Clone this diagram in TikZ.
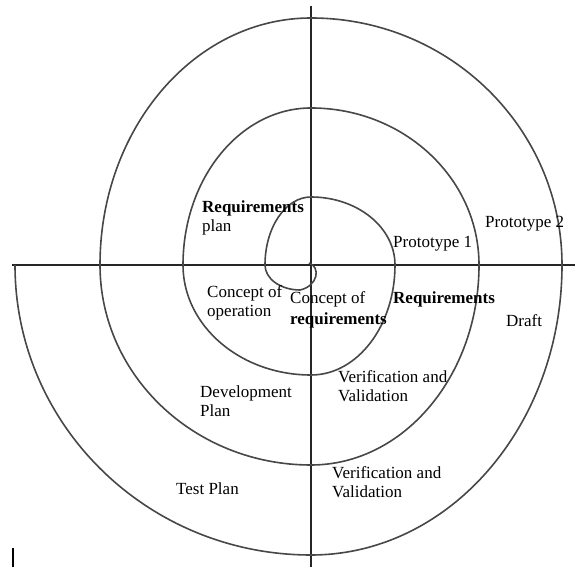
\documentclass[tikz,border=0pt]{standalone}
\usepackage{fontspec}
\setmainfont{Liberation Serif}
\begin{document}
\begin{tikzpicture}[x=1pt,y=1pt,
  spiral/.style={draw=black!72,line width=1.6pt},
  axis/.style={draw=black!85,line width=1.5pt},
  lbl/.style={anchor=base west,inner sep=0pt,font=\fontsize{17}{19}\selectfont},
  blbl/.style={lbl,font=\fontsize{17}{19}\selectfont\bfseries}]
\useasboundingbox (0,0) rectangle (575,567);
% axes
\coordinate (vtop) at (311,561);
\coordinate (vbot) at (311,0);
\coordinate (hl) at (12,302);
\coordinate (hr) at (575,302);
\draw[axis] (vtop) -- (vbot);
\draw[axis] (hl) -- (hr);
% spiral
\draw[spiral] (309,304) .. controls (321,300) and (318,281) .. (300,277)
  arc[start angle=270,end angle=180,x radius=35,y radius=25]
  arc[start angle=180,end angle=90,x radius=46,y radius=68]
  arc[start angle=90,end angle=0,x radius=84,y radius=68]
  arc[start angle=0,end angle=-90,x radius=84,y radius=110]
  arc[start angle=270,end angle=180,x radius=128,y radius=110]
  arc[start angle=180,end angle=90,x radius=128,y radius=157]
  arc[start angle=90,end angle=0,x radius=168,y radius=157]
  arc[start angle=0,end angle=-90,x radius=168,y radius=200]
  arc[start angle=270,end angle=180,x radius=211,y radius=200]
  arc[start angle=180,end angle=90,x radius=211,y radius=247]
  arc[start angle=90,end angle=0,x radius=251,y radius=247]
  arc[start angle=0,end angle=-90,x radius=251,y radius=290]
  arc[start angle=270,end angle=180,x radius=296,y radius=290];
% cursor bar
\coordinate (cb) at (13,0);
\coordinate (ct) at (13,19);
\draw[line width=2pt] (cb) -- (ct);
% labels
\node[blbl] (reqplan1) at (202,354) {Requirements};
\node[lbl] (reqplan2) at (202,335) {plan};
\node[lbl] (proto1) at (393,319) {Prototype 1};
\node[lbl] (proto2) at (485,339) {Prototype 2};
\node[lbl] (conop1) at (207,269) {Concept of};
\node[lbl] (conop2) at (207,250) {operation};
\node[lbl] (conreq1) at (290,263) {Concept of};
\node[blbl] (conreq2) at (290,242) {requirements};
\node[blbl] (req) at (393,263) {Requirements};
\node[lbl] (draft) at (506,240) {Draft};
\node[lbl] (vv1a) at (338,184) {Verification and};
\node[lbl] (vv1b) at (338,165) {Validation};
\node[lbl] (dev1) at (200,169) {Development};
\node[lbl] (dev2) at (200,150) {Plan};
\node[lbl] (vv2a) at (332,88) {Verification and};
\node[lbl] (vv2b) at (332,69) {Validation};
\node[lbl] (test) at (176,72) {Test Plan};
\end{tikzpicture}
\end{document}
